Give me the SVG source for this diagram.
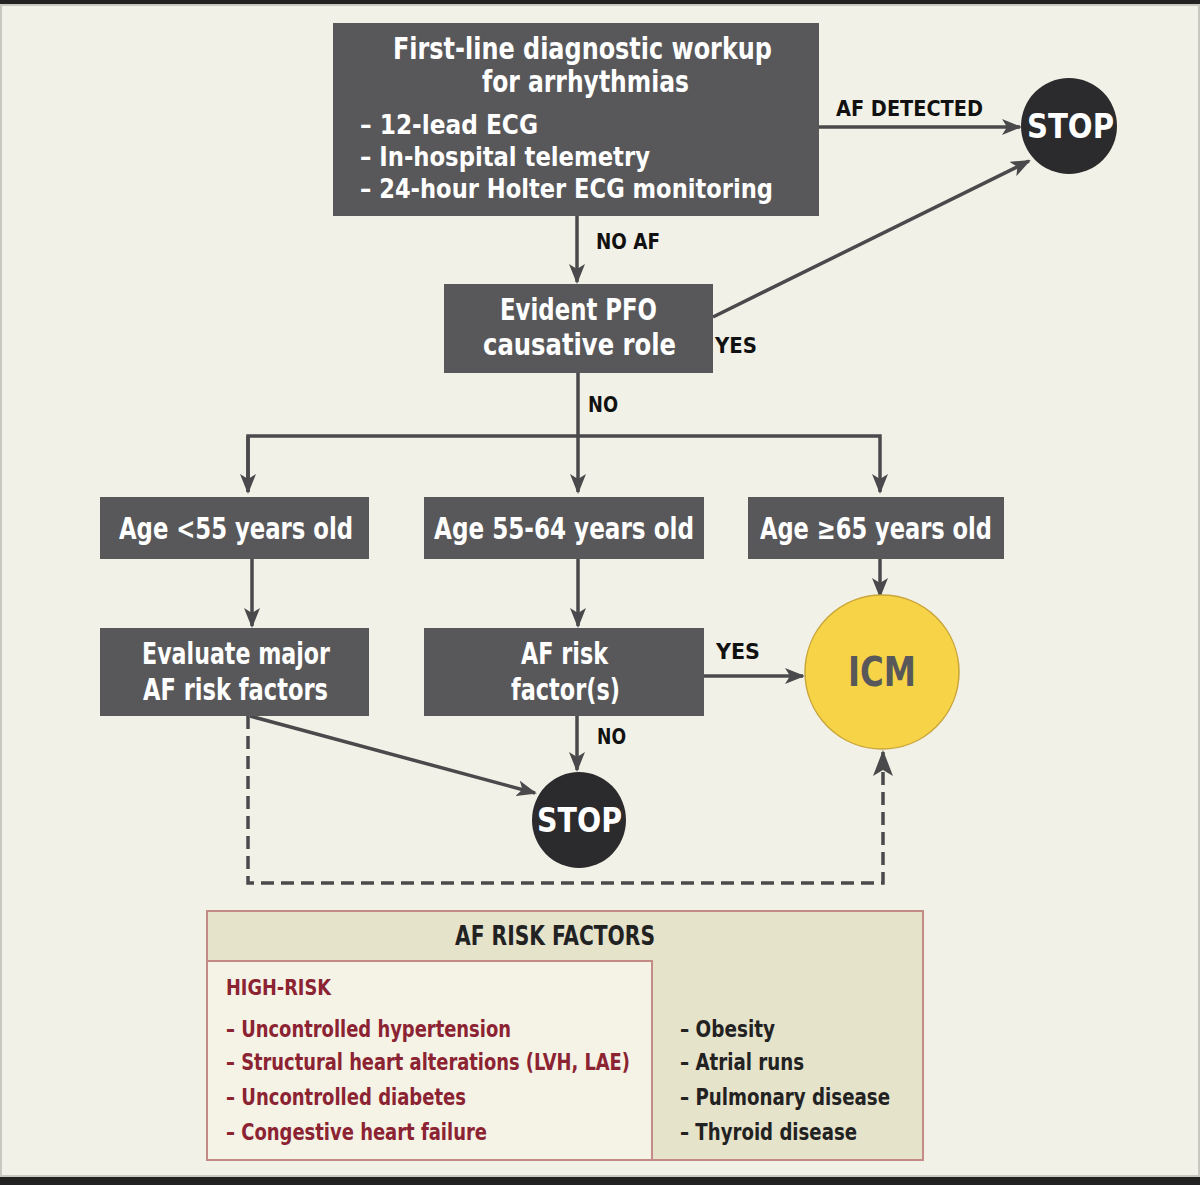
<svg xmlns="http://www.w3.org/2000/svg" width="1200" height="1185" viewBox="0 0 1200 1185">
<style>
text{font-family:"DejaVu Sans Condensed","Liberation Sans Narrow","Liberation Sans",sans-serif;font-weight:bold}
.box{fill:#58585a}
.wt{fill:#ffffff;font-size:30px}
.bl{fill:#ffffff;font-size:27px}
.lbl{fill:#111111;font-size:21px}
.con{stroke:#4a4a4c;stroke-width:3.5;fill:none}
.dash{stroke:#4a4a4c;stroke-width:3.5;fill:none;stroke-dasharray:13 7}
.red{fill:#8b2332;font-size:23px}
.dk{fill:#222222;font-size:23px}
</style>
<defs>
<marker id="ah" viewBox="0 0 20 16" refX="18" refY="8" markerWidth="20" markerHeight="16" markerUnits="userSpaceOnUse" orient="auto">
<path d="M0,0 L20,8 L0,16 L5,8 z" fill="#4a4a4c"/>
</marker>
</defs>
<rect x="0" y="0" width="1200" height="1185" fill="#f2f1e7"/>
<rect x="0" y="0" width="1200" height="4" fill="#222222"/>
<rect x="0" y="1177" width="1200" height="8" fill="#222222"/>
<rect x="1" y="5" width="1198" height="1171" fill="none" stroke="#c8c8c0" stroke-width="2"/>

<g id="connectors">
<line class="con" x1="819" y1="127" x2="1020" y2="127" marker-end="url(#ah)"/>
<line class="con" x1="577" y1="216" x2="577" y2="282" marker-end="url(#ah)"/>
<line class="con" x1="713" y1="317" x2="1029" y2="161" marker-end="url(#ah)"/>
<line class="con" x1="578" y1="373" x2="578" y2="492" marker-end="url(#ah)"/>
<polyline class="con" points="248,492 248,436 880,436 880,492" marker-end="url(#ah)"/>
<line class="con" x1="248" y1="436" x2="248" y2="492" marker-end="url(#ah)"/>
<line class="con" x1="252" y1="559" x2="252" y2="626" marker-end="url(#ah)"/>
<line class="con" x1="578" y1="559" x2="578" y2="626" marker-end="url(#ah)"/>
<line class="con" x1="880" y1="559" x2="880" y2="596" marker-end="url(#ah)"/>
<line class="con" x1="704" y1="676" x2="803" y2="676" marker-end="url(#ah)"/>
<line class="con" x1="577" y1="716" x2="577" y2="770" marker-end="url(#ah)"/>
<line class="con" x1="250" y1="716" x2="535" y2="793" marker-end="url(#ah)"/>
<polyline class="dash" points="248,716 248,883 883,883 883,752"/>
<path d="M873,776 L883,750 L893,776 L883,770 z" fill="#4a4a4c"/>
<text class="lbl" x="836" y="116" textLength="147" lengthAdjust="spacingAndGlyphs">AF DETECTED</text>
<text class="lbl" x="596" y="249" textLength="64" lengthAdjust="spacingAndGlyphs">NO AF</text>
<text class="lbl" x="715" y="353" textLength="42" lengthAdjust="spacingAndGlyphs">YES</text>
<text class="lbl" x="588" y="412" textLength="30" lengthAdjust="spacingAndGlyphs">NO</text>
<text class="lbl" x="716" y="659" textLength="44" lengthAdjust="spacingAndGlyphs">YES</text>
<text class="lbl" x="597" y="744" textLength="29" lengthAdjust="spacingAndGlyphs">NO</text>
</g>

<g id="workup">
<rect class="box" x="333" y="23" width="486" height="193"/>
<text class="wt" x="393" y="59" textLength="379" lengthAdjust="spacingAndGlyphs">First-line diagnostic workup</text>
<text class="wt" x="482" y="92" textLength="207" lengthAdjust="spacingAndGlyphs">for arrhythmias</text>
<text class="bl" x="360" y="134" textLength="178" lengthAdjust="spacingAndGlyphs">– 12-lead ECG</text>
<text class="bl" x="360" y="166" textLength="290" lengthAdjust="spacingAndGlyphs">– In-hospital telemetry</text>
<text class="bl" x="360" y="198" textLength="413" lengthAdjust="spacingAndGlyphs">– 24-hour Holter ECG monitoring</text>
</g>

<g id="stop-top">
<circle cx="1069" cy="126" r="48" fill="#2b2a2c"/>
<text class="wt" x="1027" y="138" textLength="87" lengthAdjust="spacingAndGlyphs" style="font-size:34px">STOP</text>
</g>

<g id="pfo">
<rect class="box" x="444" y="284" width="269" height="89"/>
<text class="wt" x="500" y="320" textLength="157" lengthAdjust="spacingAndGlyphs">Evident PFO</text>
<text class="wt" x="483" y="355" textLength="193" lengthAdjust="spacingAndGlyphs">causative role</text>
</g>

<g id="age1">
<rect class="box" x="100" y="497" width="269" height="62"/>
<text class="wt" x="119" y="539" textLength="234" lengthAdjust="spacingAndGlyphs">Age &lt;55 years old</text>
</g>
<g id="age2">
<rect class="box" x="424" y="497" width="280" height="62"/>
<text class="wt" x="434" y="539" textLength="260" lengthAdjust="spacingAndGlyphs">Age 55-64 years old</text>
</g>
<g id="age3">
<rect class="box" x="748" y="497" width="256" height="62"/>
<text class="wt" x="760" y="539" textLength="232" lengthAdjust="spacingAndGlyphs">Age ≥65 years old</text>
</g>

<g id="evaluate">
<rect class="box" x="100" y="628" width="269" height="88"/>
<text class="wt" x="142" y="664" textLength="188" lengthAdjust="spacingAndGlyphs">Evaluate major</text>
<text class="wt" x="143" y="700" textLength="185" lengthAdjust="spacingAndGlyphs">AF risk factors</text>
</g>

<g id="afrisk">
<rect class="box" x="424" y="628" width="280" height="88"/>
<text class="wt" x="521" y="664" textLength="87" lengthAdjust="spacingAndGlyphs">AF risk</text>
<text class="wt" x="511" y="700" textLength="109" lengthAdjust="spacingAndGlyphs">factor(s)</text>
</g>

<g id="icm">
<circle cx="882" cy="672" r="77" fill="#f7d447" stroke="#c9a63a" stroke-width="1.5"/>
<text x="848" y="686" textLength="68" lengthAdjust="spacingAndGlyphs" style="font-size:40px;fill:#58585a">ICM</text>
</g>

<g id="stop-bottom">
<ellipse cx="579" cy="820" rx="47" ry="48" fill="#2b2a2c"/>
<text class="wt" x="537" y="832" textLength="85" lengthAdjust="spacingAndGlyphs" style="font-size:34px">STOP</text>
</g>

<g id="risk-factors">
<rect x="207" y="911" width="716" height="249" fill="#e6e3cb" stroke="#c48a86" stroke-width="2"/>
<rect x="207" y="961" width="445" height="199" fill="#f5f2e6" stroke="#c48a86" stroke-width="2"/>
<text class="dk" x="455" y="945" textLength="200" lengthAdjust="spacingAndGlyphs" style="font-size:27px">AF RISK FACTORS</text>
<text class="red" x="226" y="995" textLength="105" lengthAdjust="spacingAndGlyphs" style="font-size:21px">HIGH-RISK</text>
<text class="red" x="226" y="1037" textLength="285" lengthAdjust="spacingAndGlyphs">– Uncontrolled hypertension</text>
<text class="red" x="226" y="1070" textLength="404" lengthAdjust="spacingAndGlyphs">– Structural heart alterations (LVH, LAE)</text>
<text class="red" x="226" y="1105" textLength="240" lengthAdjust="spacingAndGlyphs">– Uncontrolled diabetes</text>
<text class="red" x="226" y="1140" textLength="261" lengthAdjust="spacingAndGlyphs">– Congestive heart failure</text>
<text class="dk" x="680" y="1037" textLength="95" lengthAdjust="spacingAndGlyphs">– Obesity</text>
<text class="dk" x="680" y="1070" textLength="124" lengthAdjust="spacingAndGlyphs">– Atrial runs</text>
<text class="dk" x="680" y="1105" textLength="210" lengthAdjust="spacingAndGlyphs">– Pulmonary disease</text>
<text class="dk" x="680" y="1140" textLength="177" lengthAdjust="spacingAndGlyphs">– Thyroid disease</text>
</g>
</svg>
